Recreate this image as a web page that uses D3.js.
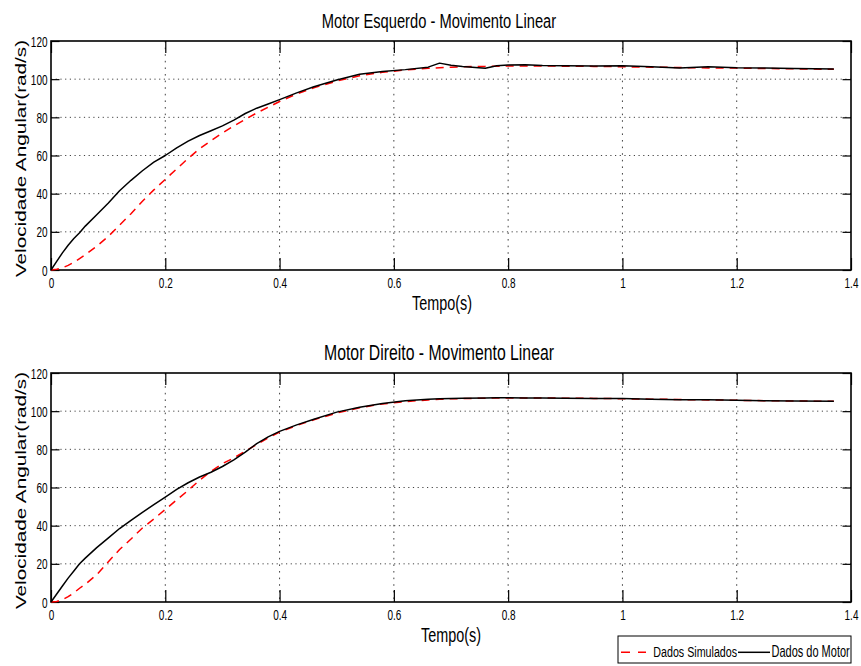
<!DOCTYPE html>
<html><head><meta charset="utf-8">
<script src="https://cdn.jsdelivr.net/npm/d3@7"></script>
<style>
body{margin:0;background:#fff}
svg text{font-family:"Liberation Sans",Arial,Helvetica,sans-serif;fill:#000}
</style>
</head><body>
<svg id="c" width="861" height="666"></svg>
<script>
// ---------- data ----------
const titles = ["Motor Esquerdo - Movimento Linear", "Motor Direito - Movimento Linear"];
const xLabel = "Tempo(s)";
const yLabel = "Velocidade Angular(rad/s)";
const seriesNames = ["Dados Simulados", "Dados do Motor"];
const xTicks = [0, 0.2, 0.4, 0.6, 0.8, 1, 1.2, 1.4];
const yTicks = [0, 20, 40, 60, 80, 100, 120];

const time = [0, 0.01, 0.02, 0.03, 0.04, 0.05, 0.06,
  0.08, 0.10, 0.12, 0.14, 0.16, 0.18, 0.20, 0.22, 0.24, 0.26, 0.28, 0.30, 0.32, 0.34, 0.36, 0.38, 0.40,
  0.43, 0.46, 0.50, 0.54, 0.58, 0.62, 0.66,
  0.68, 0.70, 0.72, 0.76, 0.78, 0.80, 0.83, 0.86, 0.90, 0.95,
  1.00, 1.05, 1.10, 1.15, 1.20, 1.25, 1.30, 1.37];

const esqMotor = [0, 4.5, 9, 13, 16.5, 19.5, 23,
  29, 35, 41.5, 47, 52, 56.5, 60, 64, 67.5, 70.5, 73, 75.5, 78.5, 82, 84.8, 87, 89.3,
  92.8, 96, 99.6, 102.6, 104, 105, 106.3,
  108.4, 107.3, 106.6, 105.7, 107.0, 107.4, 107.6, 107.2, 107, 106.9,
  107, 106.5, 105.9, 106.5, 106, 105.9, 105.6, 105.3];

const esqSimulado = [0, 0.4, 1.2, 2.4, 4, 6, 8,
  12.5, 17.5, 23.5, 29.5, 36, 42, 47.5, 53, 58.5, 63.5, 67.8, 71.8, 75.5, 79, 82.3, 85.3, 88.3,
  92.3, 95.5, 99, 101.8, 103.6, 104.8, 105.7,
  106, 106.3, 106.5, 106.7, 106.8, 106.9, 106.9, 106.9, 106.8, 106.7,
  106.5, 106.3, 106.1, 105.9, 105.8, 105.6, 105.4, 105.2];

const dirMotor = [0, 4.2, 8.4, 12.5, 16.2, 20, 23,
  28.5, 33.5, 38.5, 42.8, 47, 51, 55, 59, 62.5, 65.5, 68, 71, 74.5, 78.5, 83, 86.5, 89.4,
  92.8, 95.8, 99.5, 102, 104, 105.5, 106.2,
  106.5, 106.6, 106.8, 106.9, 107, 107, 106.9, 106.9, 106.8, 106.6,
  106.7, 106.3, 106, 106, 105.7, 105.5, 105.3, 105.2];

const dirSimulado = [0, 0.3, 1.2, 2.8, 4.8, 7.2, 9.3,
  14.3, 21, 27.5, 33, 38.8, 43.5, 48.5, 53.5, 58.5, 63.8, 68.5, 72.5, 75.5, 79, 82.5, 86, 89,
  92.5, 95.5, 99, 101.8, 103.8, 105, 105.9,
  106.2, 106.5, 106.6, 106.8, 106.9, 106.9, 106.9, 106.9, 106.8, 106.7,
  106.5, 106.3, 106.1, 105.9, 105.7, 105.5, 105.3, 105.2];

// ---------- layout ----------
const S = 1.43; // vertical stretch of the original figure
const svg = d3.select("#c");
const x = d3.scaleLinear().domain([0, 1.4]).range([51, 851]);

const panels = [
  {top: 41, bottom: 270, title: titles[0], titleSize: 14.7, sim: esqSimulado, mot: esqMotor, xlabX: 442},
  {top: 373, bottom: 602, title: titles[1], titleSize: 15.8, sim: dirSimulado, mot: dirMotor, xlabX: 451}
];

function stext(g, tx, ty, str, size, anchor, rotate) {
  const tr = rotate
    ? `translate(${tx},${ty}) rotate(-90) scale(${S},1)`
    : `translate(${tx},${ty}) scale(1,${S})`;
  return g.append("text").attr("transform", tr)
    .attr("font-size", size).attr("text-anchor", anchor || "middle").text(str);
}

panels.forEach(p => {
  const y = d3.scaleLinear().domain([0, 120]).range([p.bottom, p.top]);
  const g = svg.append("g");

  // grid
  g.append("g").selectAll("line").data(xTicks.filter(d => d > 0 && d < 1.4)).join("line")
    .attr("x1", d => x(d)).attr("x2", d => x(d)).attr("y1", p.top).attr("y2", p.bottom)
    .attr("stroke", "#444").attr("stroke-width", 1).attr("stroke-dasharray", "1.6,5");
  g.append("g").selectAll("line").data(yTicks.filter(d => d > 0 && d < 120)).join("line")
    .attr("x1", 51).attr("x2", 851).attr("y1", d => y(d)).attr("y2", d => y(d))
    .attr("stroke", "#444").attr("stroke-width", 1).attr("stroke-dasharray", "1.2,3.5");

  // axes (inward ticks on all four sides)
  const ab = g.append("g").attr("transform", `translate(0,${p.bottom})`)
    .call(d3.axisBottom(x).tickValues(xTicks).tickSize(-12).tickSizeOuter(0).tickFormat(d => d3.format("")(d)));
  ab.selectAll("text").attr("y", null).attr("dy", null)
    .attr("transform", `translate(0,18.3) scale(1,${S})`).attr("font-size", 10);
  g.append("g").attr("transform", `translate(0,${p.top})`)
    .call(d3.axisTop(x).tickValues(xTicks).tickSize(-12).tickSizeOuter(0).tickFormat(""));
  const al = g.append("g").attr("transform", `translate(51,0)`)
    .call(d3.axisLeft(y).tickValues(yTicks).tickSize(-8.5).tickSizeOuter(0));
  al.selectAll("text").attr("x", null).attr("dy", null)
    .attr("transform", `translate(-3.5,5) scale(1,${S})`).attr("font-size", 10);
  g.append("g").attr("transform", `translate(851,0)`)
    .call(d3.axisRight(y).tickValues(yTicks).tickSize(-8.5).tickSizeOuter(0).tickFormat(""));
  g.selectAll(".domain").remove();
  g.selectAll(".tick line").attr("stroke", "#000").attr("stroke-width", 1.2);

  // box
  g.append("rect").attr("x", 51).attr("y", p.top).attr("width", 800).attr("height", p.bottom - p.top)
    .attr("fill", "none").attr("stroke", "#000").attr("stroke-width", 1.6);

  // series
  const line = d3.line().x((d, i) => x(time[i])).y(d => y(d));
  g.append("path").datum(p.sim).attr("d", line).attr("fill", "none")
    .attr("stroke", "#ff0000").attr("stroke-width", 1.5).attr("stroke-dasharray", "8,6");
  g.append("path").datum(p.mot).attr("d", line).attr("fill", "none")
    .attr("stroke", "#000").attr("stroke-width", 1.5).attr("stroke-linejoin", "round");

  // texts
  stext(g, 439, p.top - 13.3, p.title, p.titleSize, "middle");
  stext(g, p.xlabX, p.bottom + 40, xLabel, 14.4, "middle");
  stext(g, 25.5, (p.top + p.bottom) / 2 + 3, yLabel, 14.5, "middle", true);
});

// legend
const lg = svg.append("g");
lg.append("rect").attr("x", 618).attr("y", 636).attr("width", 233).attr("height", 27)
  .attr("fill", "#fff").attr("stroke", "#000").attr("stroke-width", 1);
lg.append("line").attr("x1", 621).attr("x2", 646).attr("y1", 652.3).attr("y2", 652.3)
  .attr("stroke", "#ff0000").attr("stroke-width", 1.5).attr("stroke-dasharray", "9,8");
stext(lg, 653.3, 656.5, seriesNames[0], 10.7, "start");
lg.append("line").attr("x1", 738).attr("x2", 770).attr("y1", 652.3).attr("y2", 652.3)
  .attr("stroke", "#000").attr("stroke-width", 1.5);
stext(lg, 771.5, 656.5, seriesNames[1], 11, "start");
</script>
</body></html>
